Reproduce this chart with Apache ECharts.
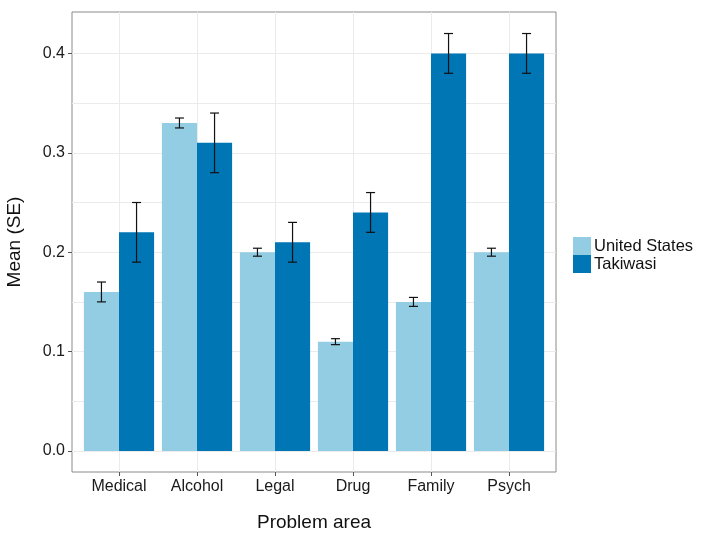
<!DOCTYPE html>
<html>
<head>
<meta charset="utf-8">
<script src="https://cdn.jsdelivr.net/npm/echarts@6/dist/echarts.min.js"></script>
<style>html,body{margin:0;padding:0;background:#fff;}#chart{width:702px;height:542px;}</style>
</head>
<body>
<div id="chart"></div>
<script>
var categories = ['Medical', 'Alcohol', 'Legal', 'Drug', 'Family', 'Psych'];
var seriesNames = ['United States', 'Takiwasi'];
var usMean = [0.16, 0.33, 0.20, 0.11, 0.15, 0.20];
var usSE = [0.01, 0.005, 0.004, 0.003, 0.0045, 0.004];
var takMean = [0.22, 0.31, 0.21, 0.24, 0.40, 0.40];
var takSE = [0.03, 0.03, 0.02, 0.02, 0.02, 0.02];
var yTicks = [0.0, 0.1, 0.2, 0.3, 0.4];

var FONT = '"Liberation Sans", Arial, sans-serif';
var colors = ['#93cde4', '#0076b5'];

var errData = [];
for (var i = 0; i < categories.length; i++) {
  errData.push([i, usMean[i] - usSE[i], usMean[i] + usSE[i], 0]);
  errData.push([i, takMean[i] - takSE[i], takMean[i] + takSE[i], 1]);
}

var chart = echarts.init(document.getElementById('chart'), null, {renderer: 'canvas'});
var option = {
  animation: false,
  backgroundColor: '#fff',
  grid: [
    {left: 72, right: 146, top: 12, bottom: 70, show: true, borderColor: '#8a8a8a', borderWidth: 1, backgroundColor: '#fff'},
    {left: 72, right: 146, top: 53.4, bottom: 91},
    {left: 119, width: 390, top: 12, bottom: 70},
    {left: 80, width: 468, top: 12, bottom: 70}
  ],
  xAxis: [
    {gridIndex: 0, type: 'value', show: false},
    {gridIndex: 1, type: 'value', show: false},
    {gridIndex: 2, type: 'value', min: 1, max: 6, interval: 1,
     axisLine: {show: false}, axisTick: {show: false}, axisLabel: {show: false},
     splitLine: {show: true, lineStyle: {color: '#ebebeb', width: 1}}},
    {gridIndex: 3, type: 'category', data: categories, position: 'bottom',
     axisLine: {show: false, onZero: false},
     axisTick: {show: true, alignWithLabel: true, length: 4, lineStyle: {color: '#555'}},
     axisLabel: {margin: 7, fontSize: 16, color: '#1a1a1a', fontFamily: FONT},
     splitLine: {show: false}}
  ],
  yAxis: [
    {gridIndex: 0, type: 'value', show: false},
    {gridIndex: 1, type: 'value', position: 'left', min: 0, max: 0.4, interval: 0.05,
     axisLine: {show: false}, axisTick: {show: false}, axisLabel: {show: false},
     splitLine: {show: true, lineStyle: {color: '#ebebeb', width: 1}}},
    {gridIndex: 1, type: 'value', position: 'left', offset: 0, min: 0, max: 0.4, interval: 0.1,
     axisLine: {show: false},
     axisTick: {show: true, length: 4, lineStyle: {color: '#555'}},
     axisLabel: {margin: 7, fontSize: 16, color: '#1a1a1a', fontFamily: FONT,
       formatter: function (v) {
         for (var k = 0; k < yTicks.length; k++) { if (Math.abs(v - yTicks[k]) < 1e-9) return yTicks[k].toFixed(1); }
         return '';
       }},
     splitLine: {show: false}},
    {gridIndex: 2, type: 'value', show: false},
    {gridIndex: 3, type: 'value', min: -0.02113, max: 0.44165, show: false}
  ],
  legend: {
    orient: 'vertical', left: 568, top: 232, itemWidth: 18, itemHeight: 18, itemGap: 0,
    icon: 'rect', data: seriesNames,
    textStyle: {fontSize: 16.5, color: '#111', fontFamily: FONT, padding: [0, 0, 0, -2]}
  },
  graphic: [
    {type: 'text', style: {text: 'Mean (SE)', font: '19px ' + FONT, fill: '#111', textAlign: 'center', textVerticalAlign: 'middle'},
     x: 15, y: 242, rotation: Math.PI / 2},
    {type: 'text', style: {text: 'Problem area', font: '19px ' + FONT, fill: '#111', textAlign: 'center', textVerticalAlign: 'middle'},
     x: 314, y: 523}
  ],
  series: [
    {name: seriesNames[0], type: 'bar', xAxisIndex: 3, yAxisIndex: 4, data: usMean,
     barWidth: '45%', barGap: '0%', itemStyle: {color: colors[0]}},
    {name: seriesNames[1], type: 'bar', xAxisIndex: 3, yAxisIndex: 4, data: takMean,
     barWidth: '45%', barGap: '0%', itemStyle: {color: colors[1]}},
    {name: 'err', type: 'custom', xAxisIndex: 3, yAxisIndex: 4, data: errData, z: 5,
     renderItem: function (params, api) {
       var idx = api.value(0);
       var band = api.size([1, 0])[0];
       var off = (api.value(3) === 0 ? -1 : 1) * band * 0.45 / 2;
       var lo = api.coord([idx, api.value(1)]);
       var hi = api.coord([idx, api.value(2)]);
       var x = lo[0] + off;
       var hw = 4.5;
       var st = {stroke: '#111', lineWidth: 1.2};
       return {type: 'group', children: [
         {type: 'line', shape: {x1: x, y1: lo[1], x2: x, y2: hi[1]}, style: st},
         {type: 'line', shape: {x1: x - hw, y1: lo[1], x2: x + hw, y2: lo[1]}, style: st},
         {type: 'line', shape: {x1: x - hw, y1: hi[1], x2: x + hw, y2: hi[1]}, style: st}
       ]};
     }}
  ]
};
chart.setOption(option);
</script>
</body>
</html>
